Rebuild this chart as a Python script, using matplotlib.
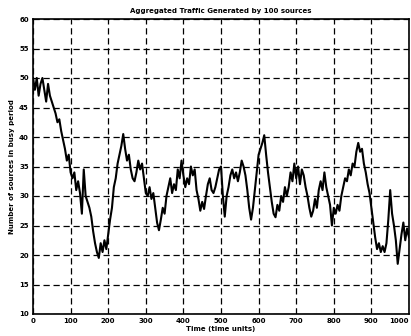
import matplotlib
matplotlib.use("Agg")
import matplotlib.pyplot as plt

time_units = list(range(0, 1001, 5))
busy_sources = [
    50, 48, 50, 47, 49, 50, 48, 46, 49, 47,          # 0-45
    46, 45, 44, 42.5, 43, 41, 39.5,                  # 50-80
    38, 36, 37, 34, 33,                              # 85-105
    34, 31, 32.5, 30.5, 27, 34.5, 30,                # 110-140
    29, 28, 26.5, 24, 22, 20.5, 19.5, 22,            # 145-180
    20.5, 22.5, 21,                                  # 185-195
    23.5, 26, 28, 31.5, 33,                          # 200-220
    35.5, 37, 38.5, 40.5,                            # 225-240
    38, 36, 37,                                      # 245-255
    34.5, 33, 32.5, 34,                              # 260-275
    36, 34.5, 35.5,                                  # 280-290
    33, 30.5, 30,                                    # 295-305
    31.5, 29.5, 30.5,                                # 310-320
    28, 25.5, 24.2,                                  # 325-335
    26, 28, 27, 30, 31.5,                            # 340-360
    33, 30.5, 32, 31, 34.5, 33,                      # 365-390
    36, 33.5,                                        # 395-400
    31.5, 33, 32,                                    # 405-415
    35, 33.5, 34.5,                                  # 420-430
    31, 29.5, 27.5,                                  # 435-445
    29, 27.8,                                        # 450-455
    30, 32, 33,                                      # 460-470
    31, 30.5, 31.5,                                  # 475-485
    33, 34.5, 35,                                    # 490-500
    30, 26.5, 30, 31.5, 33.5, 34.5,                  # 505-530
    33, 34, 32.5, 34,                                # 535-550
    36, 35,                                          # 555-560
    33.5, 31, 28, 26,                                # 565-580
    28, 31, 34,                                      # 585-595
    37, 38, 39, 40.3,                                # 600-615
    37, 34, 31.5, 29, 27, 26.4,                      # 620-645
    28.5, 27.5, 30, 29, 31.5, 30, 31.5,              # 650-680
    34, 32.5, 35.5, 33, 35, 32, 34.5, 33.5, 31.5,    # 685-725
    30, 28, 26.5, 27.5,                              # 730-745
    29.5, 28, 31,                                    # 750-760
    32.5, 31, 34,                                    # 765-775
    31.5, 30, 28.5,                                  # 780-790
    25,                                              # 795
    28, 27, 28.5, 27.5,                              # 800-815
    30, 31.5, 33, 32.5,                              # 820-835
    34.5, 33.5, 35.5, 35,                            # 840-855
    37.5, 39, 37.5, 38,                              # 860-875
    35.5, 34, 32, 30.5,                              # 880-895
    28, 25.5, 23, 21,                                # 900-915
    22, 20.5, 21.5, 20.5, 22,                        # 920-940
    26, 31,                                          # 945-950
    27, 25, 22.5, 18.5, 21,                          # 955-975
    23.5, 25.5, 22.5, 24.5, 23,                      # 980-1000
]

x_ticks = list(range(0, 1001, 100))
y_ticks = list(range(10, 61, 5))

title = "Aggregated Traffic Generated by 100 sources"
xlabel = "Time (time units)"
ylabel = "Number of sources in busy period"

fig = plt.figure(figsize=(4.11, 3.36), dpi=100)
ax = fig.add_axes([33 / 411, 1 - 314 / 336, (409 - 33) / 411, (314 - 19) / 336])

ax.plot(time_units, busy_sources, color="black", linewidth=1.5)

ax.set_xlim(0, 1000)
ax.set_ylim(10, 60)
ax.set_xticks(x_ticks)
ax.set_yticks(y_ticks)
ax.grid(True, color="black", linestyle=(0, (5, 3)), linewidth=0.9)
ax.tick_params(axis="both", length=0, labelsize=5, pad=3)
for lab in ax.get_xticklabels() + ax.get_yticklabels():
    lab.set_fontweight("bold")
ax.get_xticklabels()[-1].set_horizontalalignment("right")
for sp in ax.spines.values():
    sp.set_linewidth(1.2)
    sp.set_color("black")

ax.set_title(title, fontsize=5, fontweight="bold", pad=4)
ax.set_xlabel(xlabel, fontsize=5, fontweight="bold", labelpad=1)
ax.set_ylabel(ylabel, fontsize=5, fontweight="bold", labelpad=3)

fig.savefig("out.png", dpi=100)
